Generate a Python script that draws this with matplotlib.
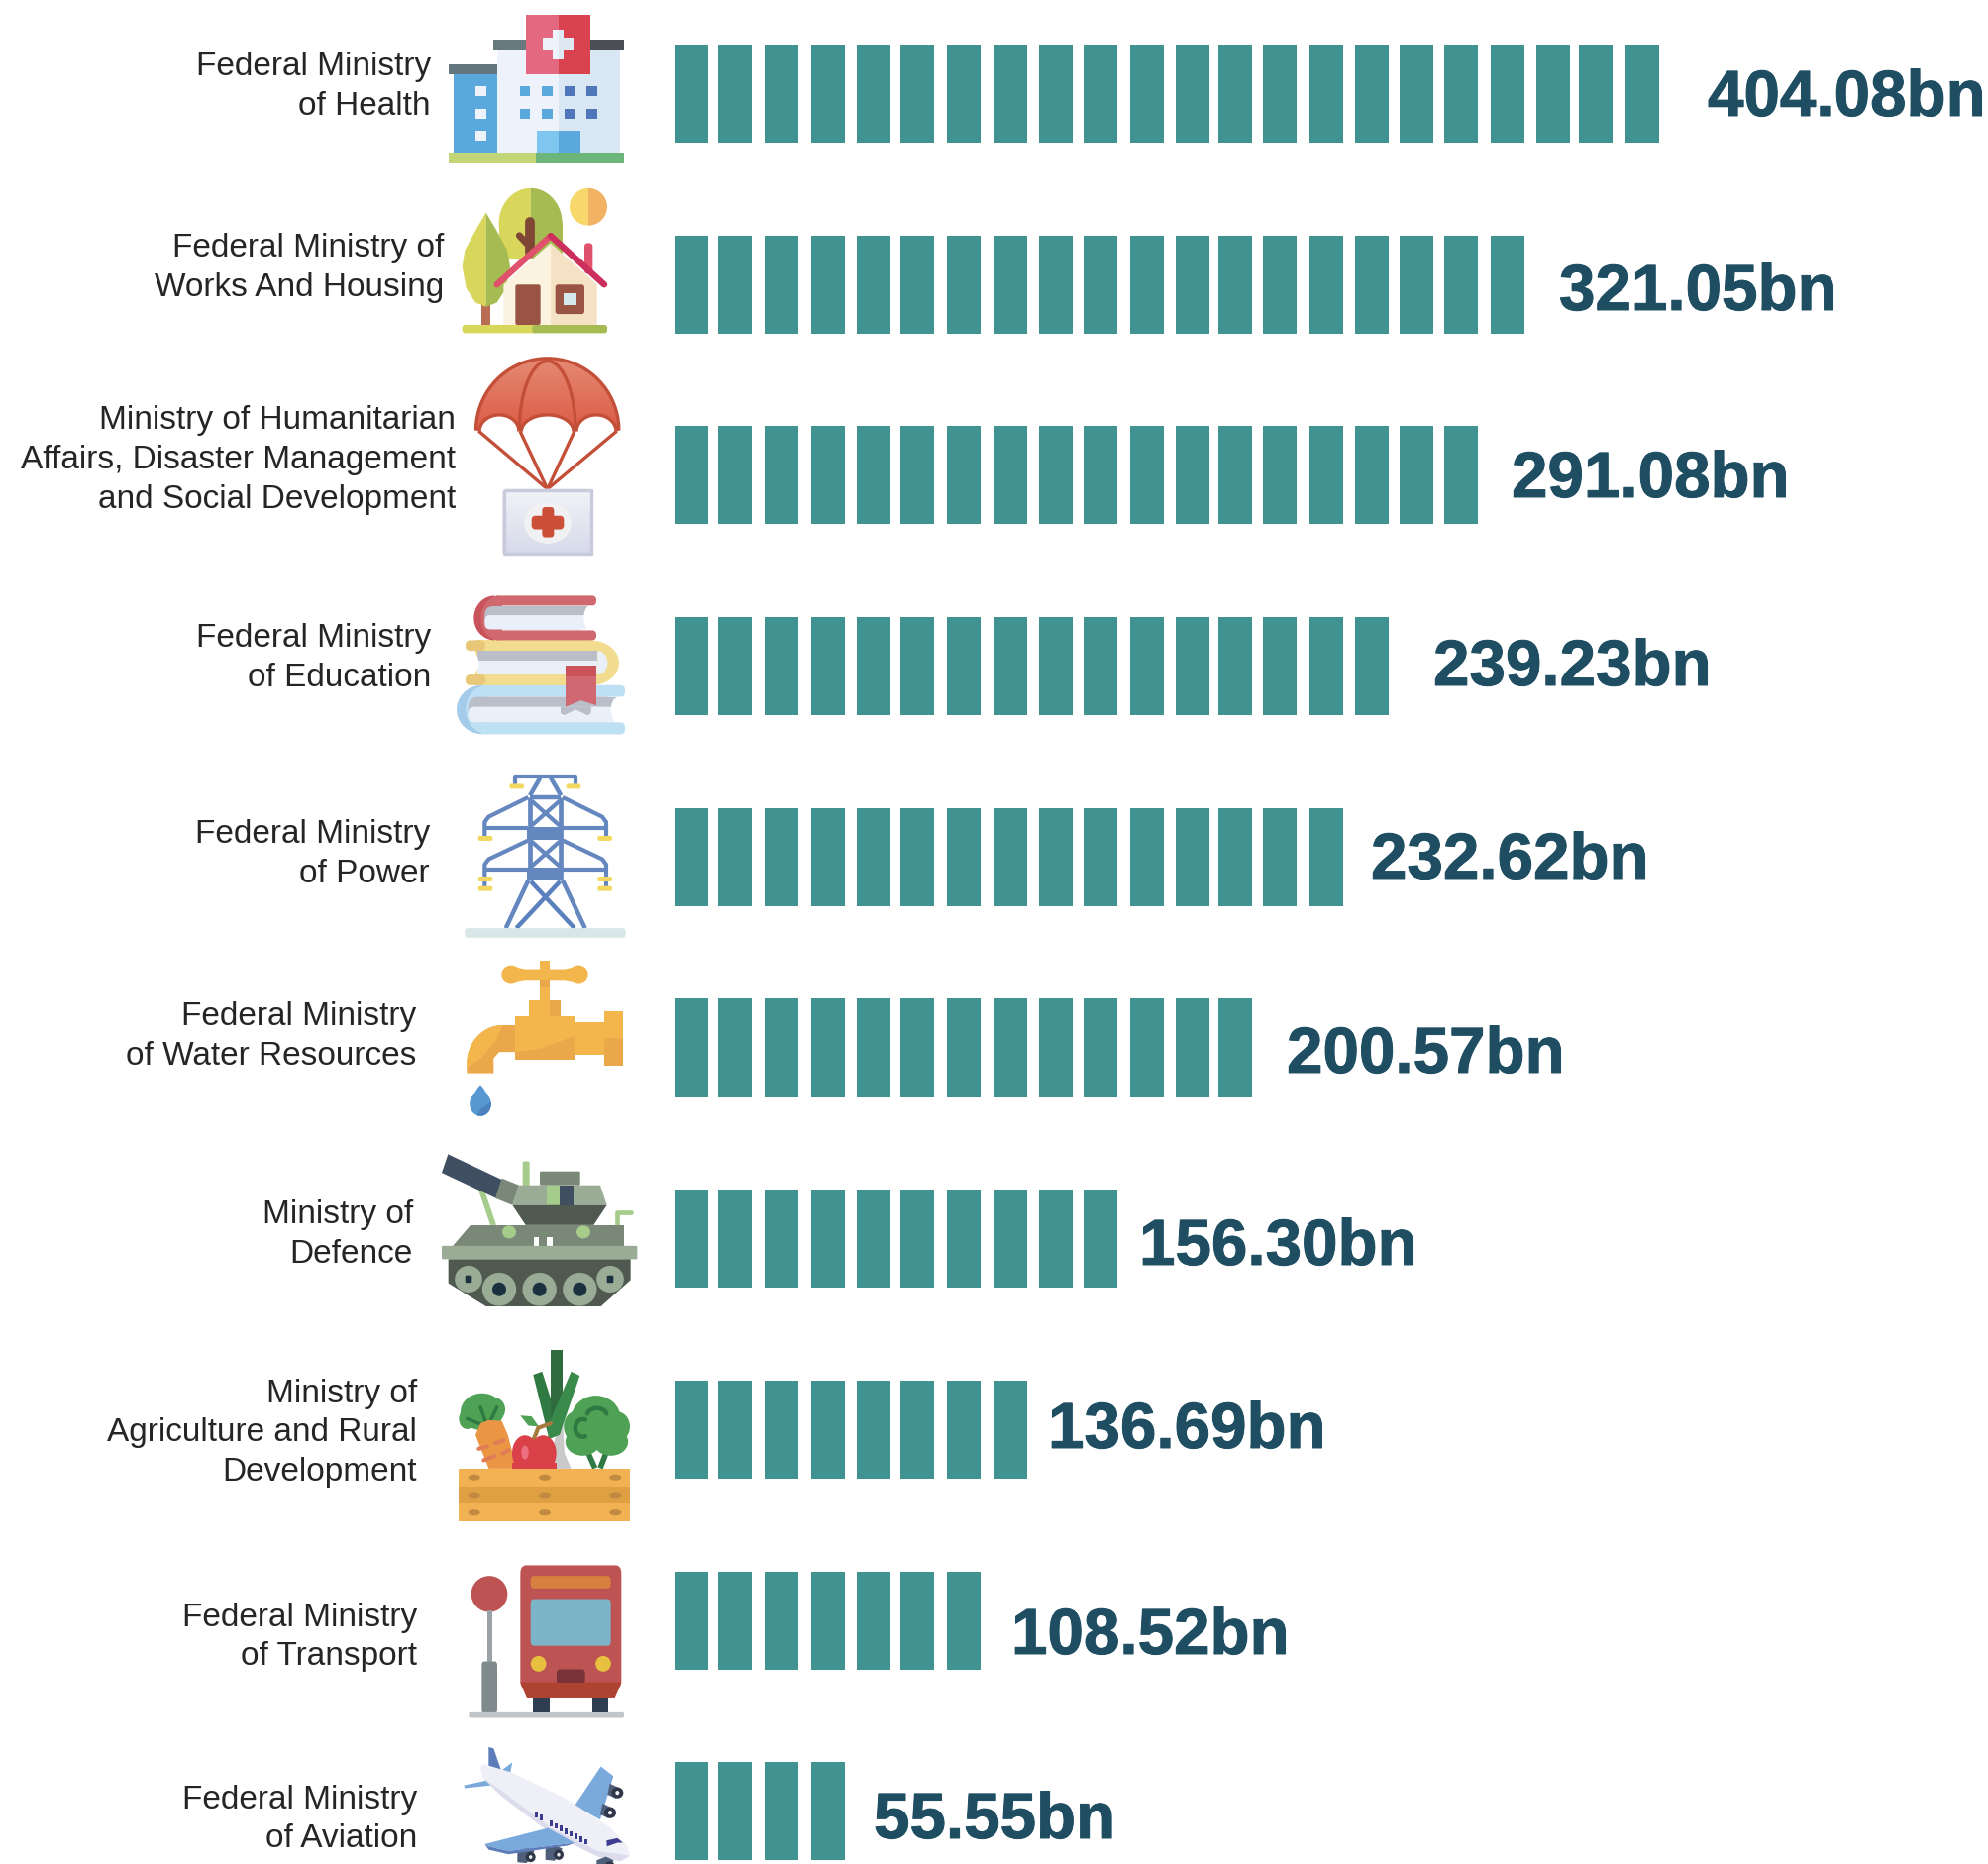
import itertools
import numpy as np
import matplotlib
matplotlib.use('Agg')
import matplotlib.pyplot as plt
import matplotlib.patheffects as pe
from matplotlib.patches import Rectangle, Polygon, Ellipse, FancyBboxPatch
from matplotlib.lines import Line2D
from matplotlib.transforms import Affine2D

plt.rcParams['font.family'] = ['Liberation Sans', 'DejaVu Sans']

# данные
ministries = ['Federal Ministry\nof Health', 'Federal Ministry of\nWorks And Housing',
              'Ministry of Humanitarian\nAffairs, Disaster Management\nand Social Development',
              'Federal Ministry\nof Education', 'Federal Ministry\nof Power',
              'Federal Ministry\nof Water Resources', 'Ministry of\nDefence',
              'Ministry of\nAgriculture and Rural\nDevelopment', 'Federal Ministry\nof Transport',
              'Federal Ministry\nof Aviation']
budget_bn = [404.08, 321.05, 291.08, 239.23, 232.62, 200.57, 156.30, 136.69, 108.52, 55.55]
blocks = [22, 19, 18, 16, 15, 13, 10, 8, 7, 4]

BAR_COLOR = '#419392'
VALUE_COLOR = '#1f4e63'
LABEL_COLOR = '#252525'

# раскладка в пикселях картинки
label_right = [435, 448, 460, 435, 434, 420, 417, 421, 421, 421]
label_y = [87.5, 270.5, 464.5, 664.5, 862.5, 1046.5, 1246.5, 1447, 1653, 1837]
value_left = [1724, 1574, 1526, 1447, 1384, 1299, 1150, 1058, 1021, 882]
value_y = [100, 296, 485, 675, 870, 1066, 1260, 1445, 1653, 1839]
# в оригинале блоки стоят чуть неровно
block_left = [681, 725, 772, 819, 865, 909, 956, 1003, 1049, 1094, 1141,
              1187, 1230, 1275, 1322, 1368, 1413, 1458, 1505, 1551, 1594, 1641]
BLOCK_W = 34

fig = plt.figure(figsize=(20.08, 18.82), dpi=100, facecolor='white')

# блоки: по y номера строк
STEP_Y, START_Y = 192.7, 94.5
bx = fig.add_axes([0, 0, 1, 1])
bx.set_xlim(0, 2008)
bx.set_ylim((1882 - START_Y) / STEP_Y, -START_Y / STEP_Y)
bx.axis('off')
for row, n in enumerate(blocks):
    bx.barh([row] * n, [BLOCK_W] * n, left=block_left[:n], height=0.514, color=BAR_COLOR, align='center', lw=0)

# поверх - оси в пикселях для текста и иконок
ax = fig.add_axes([0, 0, 1, 1])
ax.patch.set_alpha(0)
ax.axis('off')
zc = itertools.count(5)

for name, v, r, ly, vl, vy in zip(ministries, budget_bn, label_right, label_y, value_left, value_y):
    ax.text(r, ly, name, ha='right', va='center', ma='right', fontsize=24, color=LABEL_COLOR,
            linespacing=1.36, zorder=1000)
    ax.text(vl, vy, f'{v:.2f}bn', ha='left', va='center', fontsize=47.2, fontweight='bold',
            color=VALUE_COLOR, zorder=1000,
            path_effects=[pe.withStroke(linewidth=0.7, foreground=VALUE_COLOR)])


def crop(ox, oy, sy):
    return Affine2D().scale(1 / 3, 1 / sy).translate(ox, oy) + ax.transData


def rect(tr, x0, y0, x1, y1, c):
    ax.add_patch(Rectangle((x0, y0), x1 - x0, y1 - y0, fc=c, lw=0, transform=tr, zorder=next(zc)))


def rrect(tr, x0, y0, x1, y1, r, c, edge=None, lw=0):
    p = FancyBboxPatch((x0 + r, y0 + r), x1 - x0 - 2 * r, y1 - y0 - 2 * r,
                       boxstyle=f'round,pad={r},rounding_size={r}', fc=c, ec=edge or c, lw=lw,
                       transform=tr, zorder=next(zc))
    ax.add_patch(p)
    return p


def poly(tr, pts, c):
    p = Polygon(pts, closed=True, fc=c, lw=0, transform=tr, zorder=next(zc))
    ax.add_patch(p)
    return p


def ell(tr, x, y, w, h, c):
    ax.add_patch(Ellipse((x, y), w, h, fc=c, lw=0, transform=tr, zorder=next(zc)))


def arc(x, y, w, h, a0, a1, n=40):
    t = np.radians(np.linspace(a0, a1, n))
    return list(zip(x + w / 2 * np.cos(t), y + h / 2 * np.sin(t)))


def line(tr, pts, c, lw, cap='butt', join='round'):
    xs, ys = zip(*pts)
    ax.add_line(Line2D(xs, ys, color=c, lw=lw, transform=tr, zorder=next(zc),
                       solid_capstyle=cap, solid_joinstyle=join))


def grad(tr, patch, x0, y0, x1, y1, top, bottom):
    c0 = np.array(matplotlib.colors.to_rgb(top))
    c1 = np.array(matplotlib.colors.to_rgb(bottom))
    g = np.linspace(0, 1, 64)[:, None, None] * (c1 - c0) + c0
    im = ax.imshow(g, extent=(x0, x1, y1, y0), aspect='auto', transform=tr, zorder=next(zc), interpolation='bilinear')
    im.set_clip_path(patch)


# --- кроп A
A = crop(430, 0, 2.75)
# больница
rect(A, 68, 178, 217, 207, '#64777f')
rect(A, 83, 207, 217, 424, '#5ba8dc')
for wy in (240, 302, 363):
    rect(A, 150, wy, 182, wy + 28, '#eef3fb')
rect(A, 217, 138, 402, 424, '#eef3fb')
rect(A, 402, 138, 587, 424, '#d9e6f3')
rect(A, 203, 110, 304, 138, '#67787f')
rect(A, 498, 110, 599, 138, '#4b4f55')
rect(A, 304, 42, 402, 205, '#e2697f')
rect(A, 402, 42, 498, 205, '#d9434f')
rect(A, 355, 105, 402, 138, '#eef3fb')
rect(A, 402, 105, 447, 138, '#dde8f3')
rect(A, 385, 83, 402, 165, '#eef3fb')
rect(A, 402, 83, 417, 165, '#dde8f3')
for wy in (240, 302):
    for wx, c in zip((284, 352, 419, 487), ('#5ba8dc', '#5ba8dc', '#4e76b8', '#4e76b8')):
        rect(A, wx, wy, wx + 32, wy + 28, c)
rect(A, 335, 363, 402, 424, '#7ec6f0')
rect(A, 402, 363, 467, 424, '#5ba8dc')
rect(A, 68, 424, 333, 453, '#c2d677')
rect(A, 333, 424, 599, 453, '#6cb67b')
# дом
poly(A, arc(317, 620, 192, 196, 90, 270), '#d9d65c')
poly(A, arc(317, 620, 192, 196, -90, 90), '#a6bb52')
rect(A, 221, 620, 317, 720, '#d9d65c')
rect(A, 317, 620, 413, 720, '#a6bb52')
line(A, [(316, 700), (316, 615)], '#7f4635', 7, 'round')
line(A, [(283, 654), (315, 685)], '#7f4635', 5, 'round')
poly(A, arc(492, 574, 114, 104, 90, 270), '#f7d96b')
poly(A, arc(492, 574, 114, 104, -90, 90), '#f2b263')
rect(A, 168, 845, 196, 902, '#b96e54')
poly(A, [(182, 590), (150, 640), (118, 695), (110, 740), (122, 800), (150, 840), (182, 852)], '#d9d65c')
poly(A, [(182, 590), (214, 640), (246, 695), (255, 740), (243, 800), (215, 840), (182, 852)], '#a6bb52')
poly(A, [(235, 790), (378, 675), (378, 902), (235, 902)], '#fbf2e0')
poly(A, [(378, 675), (518, 790), (518, 902), (378, 902)], '#f5e2c4')
rrect(A, 480, 675, 505, 760, 10, '#e0526b')
line(A, [(215, 790), (378, 655)], '#e0526b', 4.6, 'round')
line(A, [(378, 655), (540, 790)], '#cd2f5c', 4.6, 'round')
rrect(A, 271, 790, 347, 902, 6, '#9a5443')
rrect(A, 392, 790, 480, 872, 8, '#9a5443')
rect(A, 417, 813, 455, 848, '#d4e9ee')
rrect(A, 110, 902, 340, 925, 8, '#d9d65c')
rrect(A, 322, 902, 549, 925, 8, '#a6bb52')
rect(A, 329, 902, 340, 925, '#a6bb52')
# парашют
dome = poly(A, arc(368, 1195, 433, 400, 180, 360), '#e06a52')
grad(A, dome, 150, 995, 590, 1200, '#e58a74', '#dc5b45')
dome_edge = arc(368, 1195, 433, 400, 180, 360)
line(A, dome_edge, '#c44f38', 2.4)
for (sx, sw) in ((222, 120), (368, 158), (516, 120)):
    poly(A, arc(sx, 1198, sw, 92, 180, 360), 'white')
    line(A, arc(sx, 1198, sw, 92, 180, 360), '#c44f38', 2.4)
line(A, arc(368, 1195, 170, 385, 180, 270), '#c44f38', 2.4)
line(A, arc(368, 1195, 170, 385, 270, 360), '#c44f38', 2.4)
for sx in (160, 285, 450, 578):
    line(A, [(sx, 1197), (368, 1358)], '#c44f38', 2.4)
box = rrect(A, 232, 1358, 507, 1540, 10, '#e4e6f0')
grad(A, box, 232, 1358, 507, 1540, '#f2f3f8', '#d6d9ea')
line(A, [(238, 1362), (501, 1362), (501, 1536), (238, 1536), (238, 1362)], '#c9cbdd', 2.4)
ell(A, 369, 1452, 143, 115, '#f1f1f4')
rrect(A, 320, 1432, 418, 1470, 12, '#cc4f38')
rrect(A, 352, 1408, 388, 1492, 10, '#cc4f38')

# --- кроп B
B = crop(430, 580, 2.8)
PAGE, GREY = '#eaf0f9', '#babec8'
# книги: нижняя синяя
poly(B, arc(172, 382, 158, 139, 90, 270), '#a4cbea')
poly(B, arc(186, 382, 130, 139, 90, 270), '#bee0f5')
rrect(B, 165, 313, 603, 346, 14, '#bee0f5')
rrect(B, 165, 418, 603, 452, 14, '#bee0f5')
rrect(B, 128, 346, 575, 418, 30, GREY)
rrect(B, 128, 374, 575, 418, 20, PAGE)
rect(B, 160, 346, 575, 352, GREY)
ell(B, 585, 382, 50, 72, 'white')
# желтая
rect(B, 150, 186, 500, 313, '#f2dc90')
poly(B, arc(500, 250, 170, 127, -90, 90), '#f2dc90')
rrect(B, 120, 186, 180, 216, 14, '#e8c878')
rrect(B, 120, 283, 180, 313, 14, '#e8c878')
rect(B, 155, 216, 520, 243, GREY)
rect(B, 155, 243, 520, 283, PAGE)
poly(B, arc(520, 250, 60, 67, -90, 90), PAGE)
ell(B, 135, 250, 50, 66, 'white')
# красная
poly(B, arc(208, 123, 126, 126, 90, 270), '#c9535b')
poly(B, arc(222, 123, 110, 126, 90, 270), '#d0686f')
rrect(B, 205, 60, 516, 88, 13, '#d0686f')
rrect(B, 205, 158, 516, 186, 13, '#d0686f')
rect(B, 205, 80, 230, 165, '#d0686f')
rrect(B, 178, 90, 490, 155, 24, GREY)
rrect(B, 178, 115, 490, 155, 16, PAGE)
rect(B, 200, 90, 490, 100, GREY)
ell(B, 497, 122, 38, 68, 'white')
poly(B, [(408, 374), (500, 374), (500, 392), (490, 398), (454, 382), (418, 398), (408, 392)], GREY)
poly(B, [(423, 258), (516, 258), (516, 370), (470, 356), (423, 374)], '#cf6870')
rect(B, 423, 258, 516, 288, '#cc525a')
# опора
BLUE = '#6487c0'
line(B, [(270, 598), (270, 571), (452, 571), (452, 598)], BLUE, 3)
line(B, [(315, 625), (346, 575)], BLUE, 3.2)
line(B, [(409, 625), (378, 575)], BLUE, 3.2)
line(B, [(315, 630), (315, 865)], BLUE, 3.4)
line(B, [(408, 630), (408, 865)], BLUE, 3.4)
line(B, [(315, 631), (408, 631)], BLUE, 3.2)
for y0 in (640, 755):
    line(B, [(320, y0), (405, y0 + 70)], BLUE, 3)
    line(B, [(405, y0), (320, y0 + 70)], BLUE, 3)
rect(B, 307, 715, 415, 750, BLUE)
rect(B, 307, 830, 415, 865, BLUE)
for sgn, cx in ((1, 0), (-1, 724)):
    m = lambda x: cx + sgn * x
    line(B, [(m(310), 630), (m(190), 685), (m(178), 700), (m(178), 745)], BLUE, 3)
    line(B, [(m(178), 718), (m(310), 718)], BLUE, 3)
    line(B, [(m(310), 752), (m(190), 805), (m(178), 820), (m(178), 882)], BLUE, 3)
    line(B, [(m(178), 835), (m(310), 835)], BLUE, 3)
    line(B, [(m(310), 865), (m(242), 1000)], BLUE, 3.2)
    line(B, [(m(318), 868), (m(450), 1000)], '#5a80bd', 3.2)
YEL = '#f2d860'
for x0, y0 in ((253, 592), (425, 592), (158, 739), (520, 739), (158, 854), (520, 854), (158, 881), (520, 881)):
    rrect(B, x0, y0, x0 + 44, y0 + 14, 6, YEL)
rrect(B, 118, 1000, 605, 1027, 8, '#d9e6e8')
# кран
O1, O2 = '#f2b64c', '#eaa84a'
ell(B, 258, 1130, 58, 50, O1)
ell(B, 462, 1130, 58, 50, O1)
poly(B, [(250, 1106), (300, 1116), (420, 1116), (470, 1106), (470, 1154), (420, 1146), (300, 1146), (250, 1154)], O1)
rect(B, 344, 1092, 376, 1205, O1)
rect(B, 344, 1145, 376, 1168, O2)
rect(B, 312, 1205, 376, 1250, O1)
rect(B, 376, 1205, 408, 1250, O2)
spout = [(271, 1274), (232, 1274)] + arc(232, 1382, 216, 216, 270, 180)[1:] + [(124, 1410), (205, 1410), (205, 1368), (222, 1350), (271, 1350)]
poly(B, spout, O2)
poly(B, [(232, 1274)] + arc(232, 1382, 216, 216, 270, 180)[1:] + [(124, 1395), (170, 1365), (210, 1320)], O1)
rect(B, 271, 1250, 449, 1372, O1)
poly(B, [(271, 1350), (350, 1340), (449, 1305), (449, 1372), (271, 1372)], O2)
rect(B, 449, 1266, 539, 1357, O1)
rect(B, 539, 1236, 596, 1310, O1)
rect(B, 539, 1310, 596, 1388, O2)
poly(B, [(165, 1442), (196, 1488), (134, 1488)], '#5898d0')
ell(B, 165, 1497, 65, 68, '#5898d0')
poly(B, arc(165, 1497, 65, 68, -10, 110) + [(165, 1512)], '#4a82bd')

# --- кроп C
C = crop(430, 1150, 2.142)
# танк
LG, MG, PG, DG, NAVY = '#a6cc8c', '#7a8877', '#9aac96', '#50594f', '#3f4e60'
poly(C, [(160, 112), (178, 112), (213, 186), (195, 186)], LG)
rrect(C, 293, 48, 314, 102, 5, LG)
poly(C, [(67, 33), (230, 88), (212, 128), (48, 73)], NAVY)
poly(C, [(230, 85), (282, 100), (262, 143), (210, 128)], MG)
rrect(C, 345, 70, 467, 100, 3, MG)
poly(C, [(280, 100), (528, 100), (548, 143), (262, 143)], PG)
rect(C, 365, 100, 405, 143, LG)
rect(C, 405, 100, 447, 143, NAVY)
poly(C, [(262, 143), (548, 143), (508, 186), (302, 186)], DG)
line(C, [(580, 186), (580, 158), (620, 158)], LG, 3.4, 'round')
poly(C, [(135, 186), (600, 186), (600, 231), (80, 231)], MG)
ell(C, 252, 201, 42, 28, LG)
ell(C, 477, 201, 42, 28, LG)
rect(C, 326, 211, 342, 231, 'white')
rect(C, 366, 211, 383, 231, 'white')
rrect(C, 48, 231, 640, 260, 3, PG)
poly(C, [(68, 260), (620, 260), (620, 305), (530, 362), (182, 362), (68, 312)], DG)
for wx, wy, ww, wh in ((129, 303, 83, 58), (558, 303, 83, 58), (222, 325, 103, 72), (344, 325, 103, 72), (466, 325, 103, 72)):
    ell(C, wx, wy, ww, wh, PG)
    if ww > 90:
        ell(C, wx, wy, 42, 30, '#1a3240')
    else:
        rrect(C, wx - 10, wy - 8, wx + 10, wy + 8, 3, '#1a3240')
# овощи
GR, DGR = '#4ea155', '#2f7a42'
poly(C, [(390, 650), (414, 610), (420, 680), (440, 713), (375, 713)], '#c9c9c9')
poly(C, [(325, 510), (352, 503), (395, 600), (370, 640)], DGR)
rect(C, 378, 456, 414, 620, '#2f6b3f')
poly(C, [(440, 503), (466, 512), (405, 640), (370, 650), (370, 620)], '#3a8a4c')
for ex, ey, ew, eh in ((170, 590, 130, 80), (125, 605, 50, 45), (210, 585, 60, 50)):
    ell(C, ex, ey, ew, eh, GR)
line(C, [(165, 580), (180, 610)], DGR, 2.5, 'round')
line(C, [(125, 605), (170, 618)], DGR, 2.5, 'round')
line(C, [(215, 580), (195, 610)], DGR, 2.5, 'round')
poly(C, [(150, 640), (165, 615), (190, 608), (230, 610), (248, 640), (275, 713), (190, 713)], '#eb9644')
for x0, y0, x1, y1 in ((160, 670, 185, 665), (210, 658, 235, 652), (175, 695, 207, 686), (232, 680, 250, 673)):
    line(C, [(x0, y0), (x1, y1)], '#e07d55', 3, 'round')
poly(C, [(286, 598), (320, 600), (342, 622), (310, 620)], GR)
line(C, [(326, 650), (340, 625), (378, 615)], '#a67a3c', 3, 'round')
ell(C, 300, 680, 78, 78, '#d94048')
ell(C, 355, 680, 80, 78, '#d94048')
ell(C, 300, 678, 22, 30, '#ec7080')
rect(C, 262, 700, 396, 713, '#d94048')
line(C, [(492, 680), (512, 712)], DGR, 4)
line(C, [(545, 680), (528, 712)], DGR, 4)
for ex, ey, ew, eh in ((515, 605, 150, 100), (460, 622, 85, 70), (578, 622, 80, 65), (475, 655, 105, 60), (560, 655, 105, 60)):
    ell(C, ex, ey, ew, eh, GR)
line(C, arc(518, 600, 62, 36, 200, 340), DGR, 3.2, 'round')
line(C, arc(475, 625, 45, 38, 70, 290), DGR, 3.2, 'round')
rect(C, 99, 713, 618, 827, '#f2b254')
rect(C, 99, 752, 618, 788, '#dfa044')
for px in (146, 360, 574):
    for py in (732, 770, 808):
        ell(C, px, py, 36, 13, '#c08a40')
# автобус
ell(C, 192, 984, 110, 78, '#bd5352')
rect(C, 185, 1020, 200, 1132, '#9aa4a6')
rrect(C, 169, 1130, 216, 1242, 8, '#7f8a8c')
rrect(C, 130, 1240, 600, 1252, 4, '#bfc5c8')
rect(C, 325, 1205, 374, 1240, '#2e3d50')
rect(C, 505, 1205, 553, 1240, '#2e3d50')
rrect(C, 286, 922, 592, 1190, 18, '#bd5352')
poly(C, [(286, 1175), (592, 1175), (572, 1208), (306, 1208)], '#af4332')
rrect(C, 317, 945, 560, 972, 10, '#d68040')
rrect(C, 317, 995, 560, 1096, 10, '#7eb4c8')
ell(C, 341, 1135, 47, 34, '#e8c040')
ell(C, 537, 1135, 47, 34, '#e8c040')
rrect(C, 396, 1147, 482, 1180, 9, '#7a3338')
rect(C, 390, 1175, 490, 1185, '#af4332')
# самолёт
W1, W2 = '#7aa9dc', '#5c7cba'
poly(C, [(190, 1315), (205, 1318), (237, 1384), (210, 1378), (190, 1360)], W2)
poly(C, [(230, 1365), (262, 1348), (255, 1372)], W1)
poly(C, [(115, 1398), (200, 1385), (210, 1397), (118, 1404)], W1)
poly(C, [(450, 1442), (530, 1357), (568, 1378), (528, 1472)], W1)
for ex, ey in ((575, 1412), (553, 1455)):
    poly(C, [(ex - 18, ey - 18), (ex + 12, ey - 8), (ex, ey + 14), (ex - 25, ey + 6)], '#4f5f7a')
    ell(C, ex + 5, ey + 2, 36, 24, '#2e3648')
    ell(C, ex + 5, ey + 2, 12, 9, '#eef0f6')
poly(C, [(165, 1358), (175, 1352), (260, 1370), (420, 1425), (560, 1490), (610, 1530), (618, 1550), (590, 1562),
         (520, 1550), (380, 1500), (230, 1420), (170, 1380)], '#efeff7')
poly(C, [(170, 1380), (230, 1410), (380, 1490), (520, 1540), (618, 1550), (590, 1562), (520, 1552), (380, 1503), (230, 1422)], '#dcdcec')
for ex, ey in ((305, 1550), (390, 1545), (545, 1570)):
    poly(C, [(ex - 28, ey - 10), (ex, ey - 18), (ex + 24, ey - 10), (ex, ey + 16), (ex - 28, ey + 14)], '#4f5f7a')
    ell(C, ex + 12, ey + 3, 30, 22, '#2e3648')
    ell(C, ex + 12, ey + 3, 10, 8, '#eef0f6')
poly(C, [(178, 1525), (370, 1490), (450, 1522), (250, 1540), (190, 1530)], W1)
poly(C, [(178, 1525), (190, 1530), (250, 1540), (450, 1522), (430, 1528), (250, 1547), (190, 1537)], W2)
for wx, wy in [(335, 1462), (350, 1467)] + [(380 + 15 * i, 1480 + 5.7 * i) for i in range(8)]:
    rect(C, wx - 5, wy - 6, wx + 5, wy + 6, '#3c3c90')
poly(C, [(547, 1517), (580, 1512), (597, 1522), (580, 1522), (548, 1530)], '#3c3c90')

ax.set_xlim(0, 2008)
ax.set_ylim(1882, 0)
fig.savefig('out.png', dpi=100)
